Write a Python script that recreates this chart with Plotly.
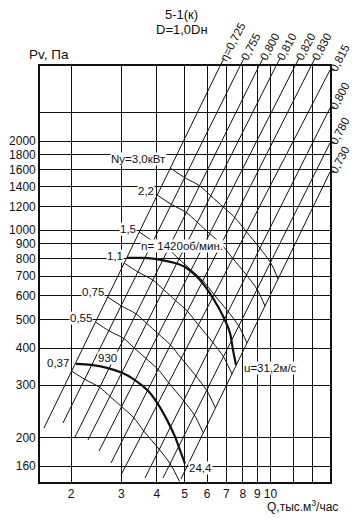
import numpy as np
import plotly.graph_objects as go

# ---------------- axes ----------------
Q_MIN, Q_MAX = 1.557, 16.16      # тыс. м3/час (log axis)
P_MIN, P_MAX = 141.3, 3583.0     # Па (log axis)

q_ticks = [2, 3, 4, 5, 6, 7, 8, 9, 10]
q_tick_text = ["2", "3", "4", "5", "6", "7", "8", "9", "10"]
q_extra_grid = [12, 14]
p_ticks = [160, 200, 300, 400, 500, 600, 700, 800, 900, 1000, 1200, 1400, 1600, 1800, 2000]
p_tick_text = ["160", "200", "300", "400", "500", "600", "700", "800", "900", "1000",
               "1200", "1400", "1600", "1800", "2000"]
p_extra_grid = [2500]

# ---------------- efficiency rays (P ~ Q^2) ----------------
eta_labels = ["η=0,725", "0,755", "0,800", "0,810", "0,820", "0,830", "0,815", "0,800", "0,780", "0,730"]
ray_q_low = [1.608, 1.874, 2.065, 2.293, 2.506, 2.761, 2.993, 3.632, 4.200, 4.856]
ray_p_low = [215.0, 223.5, 200.5, 195.9, 179.8, 163.8, 149.2, 145.8, 145.8, 144.7]
ray_q_high = [6.652, 7.817, 9.112, 10.45, 12.18, 13.86, 16.16, 16.16, 16.16, 16.16]
ray_p_high = [3583, 3583, 3583, 3583, 3583, 3583, 3473, 2585, 1970, 1572]

# ---------------- motor power curves Nу, кВт ----------------
power_labels = ["Nу=3,0кВт", "2,2", "1,5", "1,1", "0,75", "0,55", "0,37"]
q_n30 = [4.458, 5.003, 5.642, 6.176, 6.826, 7.490, 8.238, 9.178, 9.998, 10.63]
p_n30 = [1621, 1505, 1413, 1307, 1198, 1105, 987, 870, 778, 685]
q_n22 = [4.011, 4.494, 5.068, 5.543, 6.122, 6.722, 7.376, 8.238, 8.973, 9.564]
p_n22 = [1314, 1222, 1148, 1063, 974, 898, 803, 706, 632, 555]
q_n15 = [3.469, 3.877, 4.376, 4.779, 5.273, 5.795, 6.343, 7.107, 7.741, 8.271]
p_n15 = [986, 918, 863, 799, 734, 676, 606, 531, 475, 416]
q_n11 = [3.071, 3.430, 3.868, 4.220, 4.649, 5.114, 5.588, 6.277, 6.842, 7.328]
p_n11 = [775, 723, 679, 630, 579, 533, 479, 418, 374, 327]
q_n075 = [2.688, 2.995, 3.380, 3.682, 4.053, 4.462, 4.864, 5.481, 5.975, 6.415]
p_n075 = [595, 556, 522, 485, 446, 410, 370, 322, 288, 251]
q_n055 = [2.436, 2.712, 3.061, 3.332, 3.662, 4.037, 4.394, 4.959, 5.406, 5.814]
p_n055 = [490, 458, 431, 400, 369, 339, 306, 266, 238, 207]
q_n037 = [2.004, 2.233, 2.518, 2.736, 3.005, 3.316, 3.597, 4.076, 4.447, 4.798]
p_n037 = [335, 314, 295, 275, 254, 233, 210, 182, 163, 142]

# ---------------- fan characteristics (thick) ----------------
q_n1420 = [3.141, 3.632, 4.166, 4.627, 5.016, 5.661, 6.287, 6.815, 7.211, 7.388, 7.569]
p_n1420 = [806, 806, 793, 775, 751, 679, 590, 513, 450, 394, 351]
q_n930 = [2.082, 2.349, 2.673, 3.017, 3.351, 3.721, 4.034, 4.338, 4.627, 4.817, 5.016]
p_n930 = [354, 351, 343, 330, 312, 287, 259, 229, 201, 181, 163]

# ---------------- layout geometry ----------------
W, H = 363, 518
ML, MR, MT, MB = 40, 33, 66, 36
PW, PH = W - ML - MR, H - MT - MB
FONT = "Liberation Sans, Arial, sans-serif"
INK = "#111111"
FS = 11.5

lx0, lx1 = np.log10(Q_MIN), np.log10(Q_MAX)
ly0, ly1 = np.log10(P_MIN), np.log10(P_MAX)


def q_px(q):
    return ML + PW * (np.log10(q) - lx0) / (lx1 - lx0)


def p_px(p):
    return MT + PH - PH * (np.log10(p) - ly0) / (ly1 - ly0)


def paper(px, py):
    return (px - ML) / PW, (MT + PH - py) / PH


fig = go.Figure()

# rays
for i in range(len(eta_labels)):
    fig.add_trace(go.Scatter(x=[ray_q_low[i], ray_q_high[i]], y=[ray_p_low[i], ray_p_high[i]],
                             mode="lines", line=dict(color=INK, width=1), hoverinfo="skip",
                             showlegend=False))

# power curves
for qs, ps in [(q_n30, p_n30), (q_n22, p_n22), (q_n15, p_n15), (q_n11, p_n11),
               (q_n075, p_n075), (q_n055, p_n055), (q_n037, p_n037)]:
    fig.add_trace(go.Scatter(x=qs, y=ps, mode="lines",
                             line=dict(color=INK, width=1, shape="spline", smoothing=0.8),
                             hoverinfo="skip", showlegend=False))

# thick characteristics
for qs, ps in [(q_n1420, p_n1420), (q_n930, p_n930)]:
    fig.add_trace(go.Scatter(x=qs, y=ps, mode="lines",
                             line=dict(color=INK, width=2.2, shape="spline", smoothing=0.8),
                             hoverinfo="skip", showlegend=False))

annotations = []
shapes = []

# eta labels + stubs
cos_a, sin_a = np.cos(np.radians(62)), np.sin(np.radians(62))
for i, lab in enumerate(eta_labels):
    xt, yt = q_px(ray_q_high[i]), p_px(ray_p_high[i])
    length = 38 if i == 0 else 28
    if yt < MT + 1:
        sx, sy = xt + 3.8, MT - 7.1
        x0s, y0s = paper(xt, MT)
        x1s, y1s = paper(sx, sy)
    else:
        sx, sy = ML + PW + 3, yt
        x0s, y0s = paper(ML + PW, yt)
        x1s, y1s = paper(ML + PW + 4, yt)
    shapes.append(dict(type="line", xref="paper", yref="paper", x0=x0s, y0=y0s, x1=x1s, y1=y1s,
                       line=dict(color=INK, width=1)))
    cx, cy = sx + length / 2 * cos_a, sy - length / 2 * sin_a
    px_, py_ = paper(cx, cy)
    annotations.append(dict(x=px_, y=py_, xref="paper", yref="paper", text=lab, showarrow=False,
                            textangle=-62, xanchor="center", yanchor="middle",
                            font=dict(family=FONT, size=FS, color=INK)))

# power labels (right end at curve start)
power_label_pos = [(4.338, 1739), (3.937, 1356), (3.405, 1009), (3.066, 818),
                   (2.630, 619), (2.388, 505), (1.983, 356)]
for lab, (x, y) in zip(power_labels, power_label_pos):
    annotations.append(dict(x=np.log10(x), y=np.log10(y), xref="x", yref="y", text=lab,
                            showarrow=False, xanchor="right", yanchor="middle",
                            bgcolor="white", borderpad=0,
                            font=dict(family=FONT, size=FS, color=INK)))

other_labels = [
    ("930", 2.466, 370),
    ("n= 1420об/мин.", 3.489, 884),
    ("u=31,2м/с", 8.009, 343),
    ("24,4", 5.138, 157.6),
]
for lab, x, y in other_labels:
    annotations.append(dict(x=np.log10(x), y=np.log10(y), xref="x", yref="y", text=lab,
                            showarrow=False, xanchor="left", yanchor="middle",
                            bgcolor="white", borderpad=0,
                            font=dict(family=FONT, size=FS, color=INK)))

# titles
for txt, px_, py_, size, xa in [("5-1(к)", 181, 14, 13, "center"),
                                 ("D=1,0Dн", 182, 29.5, 13, "center"),
                                 ("Pv, Па", 27, 55, 13.5, "left"),
                                 ("Q,тыс.м<sup>3</sup>/час", 265, 506, 12, "left")]:
    x, y = paper(px_, py_)
    annotations.append(dict(x=x, y=y, xref="paper", yref="paper", text=txt, showarrow=False,
                            xanchor=xa, yanchor="middle",
                            font=dict(family=FONT, size=size, color=INK)))

axis_common = dict(type="log", showgrid=True, gridcolor=INK, gridwidth=1.2, showline=True,
                   linecolor=INK, linewidth=1.6, mirror=True, ticks="", automargin=False,
                   tickfont=dict(family=FONT, size=12, color=INK), zeroline=False)

fig.update_layout(
    template="none",
    width=W, height=H,
    margin=dict(l=ML, r=MR, t=MT, b=MB, autoexpand=False),
    paper_bgcolor="white", plot_bgcolor="white",
    font=dict(family=FONT, color=INK),
    xaxis=dict(range=[lx0, lx1], tickvals=q_ticks, ticktext=q_tick_text,
               minor=dict(tickvals=q_extra_grid, showgrid=True, gridcolor=INK, gridwidth=1.2, ticks=""),
               **axis_common),
    yaxis=dict(range=[ly0, ly1], tickvals=p_ticks, ticktext=p_tick_text,
               minor=dict(tickvals=p_extra_grid, showgrid=True, gridcolor=INK, gridwidth=1.2, ticks=""),
               **axis_common),
    annotations=annotations, shapes=shapes, hovermode=False,
)

fig.write_html("out.html", config={"displayModeBar": False},
               post_script="document.body.style.margin='0px';document.body.style.overflow='hidden';")
